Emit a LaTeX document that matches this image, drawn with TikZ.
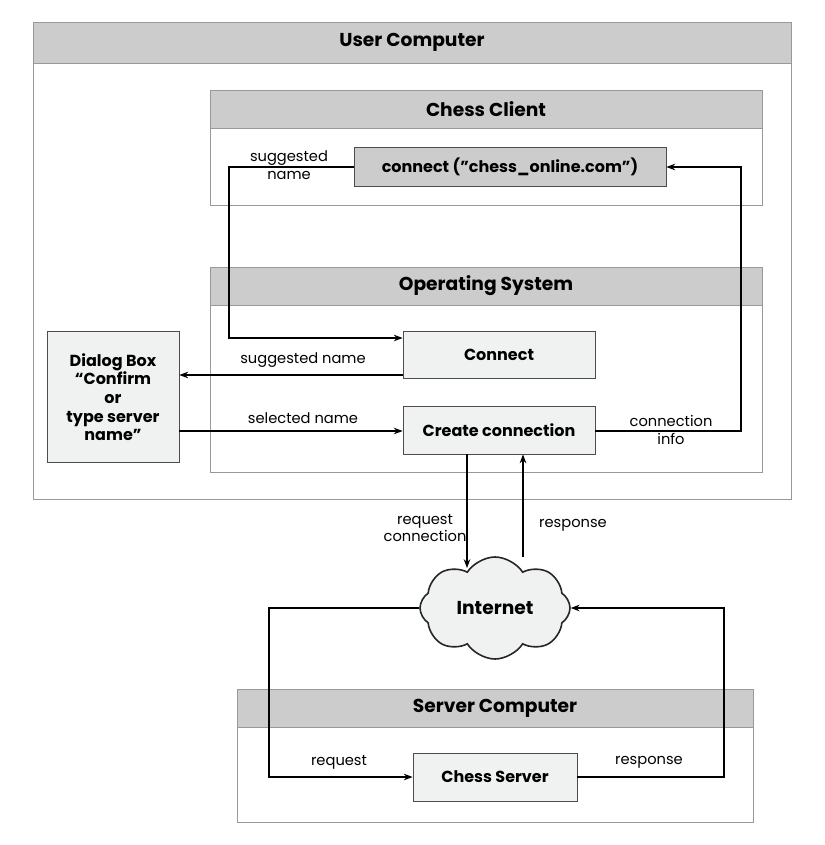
\documentclass[tikz,border=0pt]{standalone}
\usepackage{fontspec}
\setmainfont{Poppins}
\usetikzlibrary{positioning,arrows.meta,shapes.symbols}
\tikzset{
		>=Stealth
	}
\definecolor{hdr}{HTML}{CCCCCC}
\definecolor{lite}{HTML}{F0F2F1}
\definecolor{edge}{HTML}{999999}
\begin{document}
\begin{tikzpicture}[x=0.75pt,y=-0.75pt,font=\fontsize{11}{13}\selectfont]
	\tikzstyle{frame}=[draw=edge, line width=0.6pt]
	\tikzstyle{head}=[draw=edge, fill=hdr, line width=0.6pt]
	\tikzstyle{title}=[font=\fontsize{14}{16}\selectfont\bfseries]
	\tikzstyle{block}=[draw=black!70, fill=lite, line width=0.6pt, font=\fontsize{12}{14}\selectfont\bfseries, align=center]
	\tikzstyle{lbl}=[align=center, inner sep=1pt]
	\tikzstyle{conn}=[->, line width=0.8pt]
	\useasboundingbox (0,0) rectangle (824,845);
	% Frames
	\draw[frame] (33,22) rectangle (791,499);
	\draw[head] (33,22) rectangle (791,63);
	\node[title] (uc) at (412,42) {User Computer};
	\draw[frame] (210,90) rectangle (762,205);
	\draw[head] (210,90) rectangle (762,128);
	\node[title] (cc) at (486,109) {Chess Client};
	\draw[frame] (210,267) rectangle (762,472);
	\draw[head] (210,267) rectangle (762,305);
	\node[title] (os) at (486,286) {Operating System};
	\draw[frame] (237,689) rectangle (753,822);
	\draw[head] (237,689) rectangle (753,727);
	\node[title] (sc) at (495,708) {Server Computer};
	% Blocks
	\node[block, fill=hdr, minimum width=312*0.75pt, minimum height=39*0.75pt] (call) at (510,167) {connect (”chess\_online.com”)};
	\node[block, minimum width=192*0.75pt, minimum height=47*0.75pt] (con) at (499,355) {Connect};
	\node[block, minimum width=192*0.75pt, minimum height=48*0.75pt] (cre) at (499,430) {Create connection};
	\node[block, minimum width=132*0.75pt, minimum height=131*0.75pt] (dlg) at (113,397) {Dialog Box\\“Confirm\\or\\type server\\name”};
	\node[block, minimum width=164*0.75pt, minimum height=48*0.75pt] (srv) at (495,777) {Chess Server};
	\node[cloud, cloud puffs=8, cloud puff arc=115, aspect=1.5, draw=black!85, fill=lite, line width=1.2pt, font=\fontsize{14}{16}\selectfont\bfseries, minimum width=150*0.75pt, minimum height=102*0.75pt] (net) at (495,608) {Internet};
	% Points
	\coordinate (p1) at (229,167);
	\coordinate (p2) at (229,338);
	\coordinate (p3) at (741,431);
	\coordinate (p4) at (741,167);
	\coordinate (p5) at (269,608);
	\coordinate (p6) at (269,777);
	\coordinate (p7) at (724,777);
	\coordinate (p8) at (724,608);
	% Lines
	\draw[conn] (call.west) -- (p1) -- (p2) -- (con.west |- p2);
	\draw[conn] (con.west |- 0,375) -- (dlg.east |- 0,375);
	\draw[conn] (dlg.east |- 0,431) -- (cre.west |- 0,431);
	\draw[conn] (cre.east |- 0,431) -- (p3) -- (p4) -- (call.east);
	\draw[conn] (cre.south -| 467,0) -- (467,568);
	\draw[conn] (523,557) -- (cre.south -| 523,0);
	\draw[conn] (net.west |- 0,608) -- (p5) -- (p6) -- (srv.west);
	\draw[conn] (srv.east) -- (p7) -- (p8) -- (net.east |- p8);
	% Labels
	\node[lbl] (l1) at (289,165) {suggested\\name};
	\node[lbl] (l2) at (303,360) {suggested name};
	\node[lbl] (l3) at (303,418) {selected name};
	\node[lbl] (l4) at (671,430) {connection\\info};
	\node[lbl] (l5) at (425,528) {request\\connection};
	\node[lbl] (l6) at (573,525) {response};
	\node[lbl] (l7) at (339,762) {request};
	\node[lbl] (l8) at (649,762) {response};
\end{tikzpicture}
\end{document}
